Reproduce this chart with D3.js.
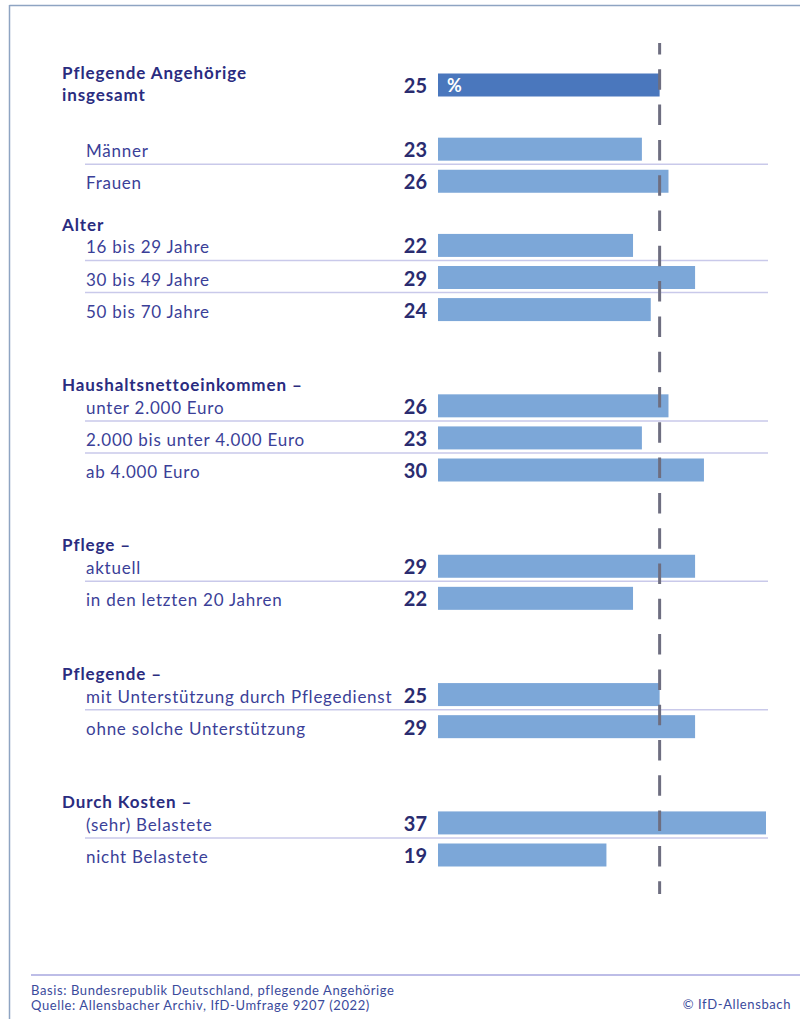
<!DOCTYPE html>
<html>
<head>
<meta http-equiv="Content-Type" content="text/html;charset=utf-8"/>
<script src="https://d3js.org/d3.v7.min.js"></script>
<style type="text/css">
body { margin: 0; background: #fff; }
svg { display: block; font-family: Lato, "Open Sans", sans-serif; }
.label { fill: #3b3f98; font-size: 17px; letter-spacing: 0.75px; }
.header { fill: #2a2c80; font-size: 17px; font-weight: bold; letter-spacing: 0.9px; }
.value { fill: #2a2c70; font-size: 20px; font-weight: bold; text-anchor: end; }
.grid { stroke: #c9c9ea; stroke-width: 1.5px; }
.foot { fill: #3a4a9c; font-size: 13px; letter-spacing: 0.6px; }
</style>
</head>
<body>
<script>

// data
var totalLabel = ["Pflegende Angehörige", "insgesamt"];
var totalValue = 25;

var groups = ["", "Alter", "Haushaltsnettoeinkommen –", "Pflege –", "Pflegende –", "Durch Kosten –"];

var categories = ["Männer", "Frauen",
  "16 bis 29 Jahre", "30 bis 49 Jahre", "50 bis 70 Jahre",
  "unter 2.000 Euro", "2.000 bis unter 4.000 Euro", "ab 4.000 Euro",
  "aktuell", "in den letzten 20 Jahren",
  "mit Unterstützung durch Pflegedienst", "ohne solche Unterstützung",
  "(sehr) Belastete", "nicht Belastete"];

var groupOf = [0, 0, 1, 1, 1, 2, 2, 2, 3, 3, 4, 4, 5, 5];

var values = [23, 26, 22, 29, 24, 26, 23, 30, 29, 22, 25, 29, 37, 19];

var footLines = ["Basis: Bundesrepublik Deutschland, pflegende Angehörige",
  "Quelle: Allensbacher Archiv, IfD-Umfrage 9207 (2022)"];
var copyright = "© IfD-Allensbach";


var width = 800, height = 1019;

var svg = d3.select("body").append("svg")
    .attr("width", width)
    .attr("height", height);

// slot layout: total on slot 0, empty slots between groups
var groupGap = [2, 2, 3, 3, 3, 3];
var rows = [];
var cursor = 0;
groups.forEach(function(g, gi) {
  cursor += groupGap[gi];
  categories.forEach(function(c, i) {
    if (groupOf[i] == gi) {
      rows.push({label: c, value: values[i], group: gi, slot: cursor});
      cursor++;
    }
  });
  cursor--;
});

var x = d3.scaleLinear()
    .domain([0, 37])
    .range([438, 766]);

var y = d3.scaleLinear()
    .domain([0, 24])
    .range([85, 855]);

var barH = 23;

// frame
svg.append("line")
    .attr("x1", 9.5).attr("x2", width).attr("y1", 5.5).attr("y2", 5.5)
    .attr("stroke", "#8ea4c2").attr("stroke-width", 1.5);
svg.append("line")
    .attr("x1", 9.5).attr("x2", 9.5).attr("y1", 5).attr("y2", height)
    .attr("stroke", "#8ea4c2").attr("stroke-width", 1.5);

// grid lines between bars of the same group
var gridRows = rows.filter(function(d, i) {
  return i < rows.length - 1 && rows[i + 1].group == d.group;
});
svg.append("g").selectAll("line")
    .data(gridRows)
    .enter().append("line")
    .attr("class", "grid")
    .attr("x1", 85).attr("x2", 768)
    .attr("y1", function(d) { return y(d.slot + 0.5) - 1; })
    .attr("y2", function(d) { return y(d.slot + 0.5) - 1; });

// total bar
svg.append("rect")
    .attr("x", x(0))
    .attr("y", y(0) - barH / 2)
    .attr("width", x(totalValue) - x(0))
    .attr("height", barH)
    .attr("fill", "#4a77bd");

svg.append("text")
    .attr("x", x(0) + 9)
    .attr("y", y(0) + 7)
    .attr("fill", "#fff")
    .style("font-size", "18px")
    .style("font-weight", "bold")
    .text("%");

svg.append("text")
    .attr("class", "value")
    .attr("x", 427)
    .attr("y", y(0) + 8)
    .text(totalValue);

svg.append("g").selectAll("text")
    .data(totalLabel)
    .enter().append("text")
    .attr("class", "header")
    .attr("x", 62)
    .attr("y", function(d, i) { return y(0) - 6 + i * 22; })
    .text(function(d) { return d; });

// bars
var g1 = svg.append("g");

g1.selectAll("rect")
    .data(rows)
    .enter().append("rect")
    .attr("x", x(0))
    .attr("y", function(d) { return y(d.slot) - barH / 2; })
    .attr("width", function(d) { return x(d.value) - x(0); })
    .attr("height", barH)
    .attr("fill", "#7ca7d8");

g1.selectAll("text.label")
    .data(rows)
    .enter().append("text")
    .attr("class", "label")
    .attr("x", 86)
    .attr("y", function(d) { return y(d.slot) + 8; })
    .text(function(d) { return d.label; });

g1.selectAll("text.value")
    .data(rows)
    .enter().append("text")
    .attr("class", "value")
    .attr("x", 427)
    .attr("y", function(d) { return y(d.slot) + 8; })
    .text(function(d) { return d.value; });

// group headers
var firstRows = rows.filter(function(d, i) {
  return groups[d.group] != "" && (i == 0 || rows[i - 1].group != d.group);
});
svg.append("g").selectAll("text")
    .data(firstRows)
    .enter().append("text")
    .attr("class", "header")
    .attr("x", 62)
    .attr("y", function(d) { return y(d.slot - 0.65) + 6; })
    .text(function(d) { return groups[d.group]; });

// reference line at the total value
svg.append("line")
    .attr("x1", x(totalValue)).attr("x2", x(totalValue))
    .attr("y1", 43).attr("y2", 894)
    .attr("stroke", "#6e6e80")
    .attr("stroke-width", 3)
    .attr("stroke-dasharray", "20.5,14.8")
    .attr("stroke-dashoffset", 9);

// footer
svg.append("line")
    .attr("x1", 31).attr("x2", width).attr("y1", 975).attr("y2", 975)
    .attr("stroke", "#7c7cd0").attr("stroke-width", 1.2);

svg.append("g").selectAll("text")
    .data(footLines)
    .enter().append("text")
    .attr("class", "foot")
    .attr("x", 31)
    .attr("y", function(d, i) { return 995 + i * 15; })
    .text(function(d) { return d; });

svg.append("text")
    .attr("class", "foot")
    .attr("x", 791)
    .attr("y", 1009)
    .attr("text-anchor", "end")
    .text(copyright);

</script>
</body>
</html>
